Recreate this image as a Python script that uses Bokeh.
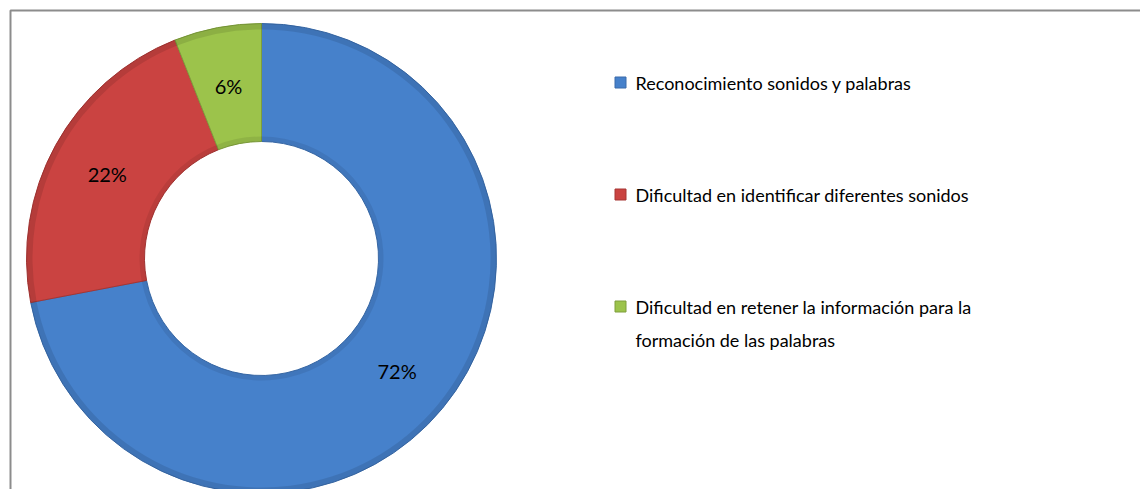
import numpy as np
from bokeh.plotting import figure
from bokeh.models import Range1d, ColumnDataSource
from bokeh.core.properties import value
from bokeh.embed import file_html
from bokeh.resources import INLINE

categories = ["Reconocimiento sonidos y palabras",
              "Dificultad en identificar diferentes sonidos",
              "Dificultad en retener la información para la\nformación de las palabras"]
values = [72, 22, 6]
colors = ["#4681CB", "#CA4341", "#9CC34B"]
edge_colors = ["#3A6BAA", "#A63634", "#7E9E3C"]

W, H = 1140, 489
FONT = "Lato"

p = figure(width=W, height=H, output_backend="svg", toolbar_location=None,
           x_range=Range1d(0, W), y_range=Range1d(0, H),
           min_border=0, outline_line_color=None)
p.axis.visible = False
p.grid.visible = False
p.background_fill_color = "white"
p.border_fill_color = "white"

# chart border
p.quad(left=[10], right=[W + 20], bottom=[-20], top=[H - 10],
       fill_color=None, line_color="#8C8C8C", line_width=2)

cx, cy = 261, H - 258
r_out, r_in = 235, 117

vals = np.array(values, dtype=float)
frac = vals / vals.sum()
start = np.pi / 2 - np.concatenate([[0], np.cumsum(frac)[:-1]]) * 2 * np.pi
end = start - frac * 2 * np.pi

src = ColumnDataSource(dict(start=end, end=start, color=colors, edge=edge_colors))
p.annular_wedge(x=cx, y=cy, inner_radius=r_in, outer_radius=r_out,
                start_angle="start", end_angle="end", fill_color="color",
                line_color="edge", line_width=1, source=src)
# subtle bevel shading
p.annular_wedge(x=cx, y=cy, inner_radius=r_out - 6, outer_radius=r_out,
                start_angle="start", end_angle="end", fill_color="black",
                fill_alpha=0.10, line_color=None, source=src)
p.annular_wedge(x=cx, y=cy, inner_radius=r_in, outer_radius=r_in + 5,
                start_angle="start", end_angle="end", fill_color="black",
                fill_alpha=0.08, line_color=None, source=src)

mid = (start + end) / 2
r_lab = (r_out + r_in) / 2
lx = cx + r_lab * np.cos(mid)
ly = cy + r_lab * np.sin(mid)
labels = [f"{int(v)}%" for v in values]
p.text(x=lx, y=ly, text=labels, text_align="center", text_baseline="middle",
       text_font=value(FONT), text_font_size="20px", text_color="black")

# legend
leg_x = 620
line_h = 34
leg_y = np.array([H - 82, H - 194, H - 306], dtype=float)
n_lines = np.array([c.count("\n") + 1 for c in categories])
text_y = leg_y - (n_lines - 1) * line_h / 2
p.rect(x=[leg_x] * 3, y=leg_y, width=11, height=11, fill_color=colors,
       line_color=edge_colors, line_width=1)
p.text(x=[leg_x + 15] * 3, y=text_y, text=categories, text_align="left",
       text_baseline="middle", text_font=value(FONT), text_font_size="18px",
       text_color="black", text_line_height=1.5)

open("out.html", "w").write(file_html(p, INLINE))
